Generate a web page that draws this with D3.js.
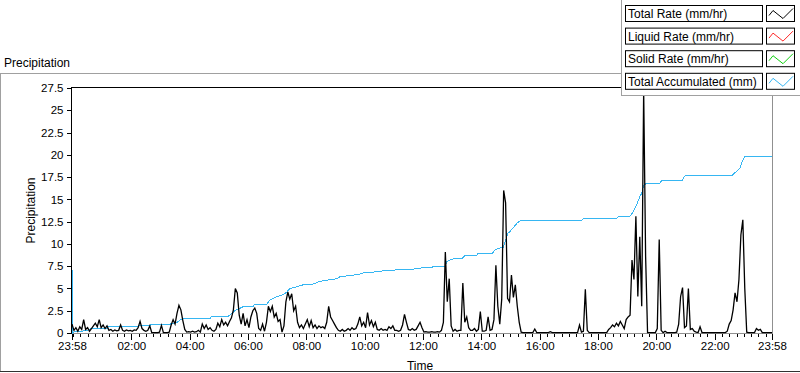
<!DOCTYPE html>
<html>
<head>
<meta charset="utf-8">
<script src="https://cdn.jsdelivr.net/npm/d3@7"></script>
<style>
  html, body { margin: 0; padding: 0; background: #ffffff; }
  svg { display: block; }
  text { font-family: "Liberation Sans", Arial, sans-serif; fill: #000; }
</style>
</head>
<body>
<svg id="chart" width="800" height="373"></svg>
<script>
// ---------------- DATA ----------------
const startLabel = "23:58";
const rateStepMinutes = 4;
// Total rate (mm/hr), one sample every 4 minutes from 23:58
const totalRate = [
  1.0, 0.3, 0.6, 0.2, 0.7, 0.4, 1.5, 0.4, 0.6, 0.2,
  0.5, 0.8, 1.1, 0.7, 1.5, 0.6, 0.9, 0.5, 0.8, 0.3,
  0.4, 0.2, 0.35, 0.25, 0.3, 0.9, 0.3, 0.2, 0.35, 0.25,
  0.3, 0.2, 0.35, 0.3, 0.6, 1.3, 0.5, 0.3, 0.2, 0.3,
  0.8, 0.05, 0.05, 0.05, 0.05, 0.1, 0.85, 0.05, 0.05, 0.05,
  0.1, 0.9, 1.5, 1.0, 2.2, 3.1, 2.6, 1.4, 0.4, 0.1,
  0.15, 0.1, 0.2, 0.1, 0.15, 0.3, 0.1, 1.0, 0.5, 0.9,
  0.4, 0.6, 0.3, 0.2, 0.4, 1.1, 0.7, 1.5, 0.9, 1.2,
  0.8, 1.3, 1.7, 2.6, 5.0, 4.5, 2.0, 1.0, 2.2, 0.8,
  1.5, 0.6, 1.8, 2.5, 2.8, 2.2, 0.5, 0.3, 1.0, 0.2,
  1.2, 3.0, 2.4, 3.0, 1.8, 2.2, 1.3, 1.5, 0.1, 0.8,
  3.5, 4.6, 3.8, 4.4, 2.5, 3.0, 1.2, 0.6, 0.9, 0.5,
  1.0, 1.5, 0.7, 1.4, 0.6, 0.9, 0.5, 0.8, 0.6, 0.7,
  0.5, 1.2, 3.0, 1.8, 1.4, 1.0, 0.6, 0.3, 0.2, 0.4,
  0.2, 0.3, 0.5, 0.3, 0.6, 0.4, 0.5, 1.0, 1.8, 0.8,
  1.2, 0.6, 2.3, 0.9, 1.4, 0.7, 1.2, 0.4, 0.3, 0.5,
  0.3, 0.4, 0.3, 0.7, 0.5, 0.8, 0.3, 0.3, 0.2, 0.3,
  0.9, 2.1, 1.2, 0.4, 0.3, 0.5, 0.3, 0.4, 0.8, 1.2,
  0.6, 0.1, 0.15, 0.1, 0.1, 0.15, 0.1, 0.1, 0.15, 0.1,
  0.3, 1.2, 9.1, 3.5, 6.1, 0.8, 0.2, 0.4, 0.2, 0.3,
  0.3, 5.6, 1.2, 1.8, 0.6, 0.3, 0.3, 0.5, 0.2, 0.4,
  2.4, 0.2, 0.2, 0.3, 1.8, 0.3, 0.4, 1.5, 7.6, 3.0,
  1.0, 3.8, 16.0, 14.6, 3.9, 3.5, 6.5, 4.0, 5.4, 3.0,
  1.2, 0.1, 0.05, 0.05, 0.05, 0.05, 0.05, 0.05, 0.45, 0.05,
  0.05, 0.05, 0.05, 0.05, 0.05, 0.05, 0.15, 0.05, 0.05, 0.05,
  0.05, 0.05, 0.05, 0.05, 0.05, 0.05, 0.05, 0.05, 0.05, 0.05,
  0.05, 0.9, 0.1, 0.2, 4.9, 0.3, 0.05, 0.05, 0.05, 0.05,
  0.05, 0.05, 0.05, 0.05, 0.05, 0.05, 0.4, 0.6, 0.9, 0.7,
  1.1, 0.8, 1.3, 0.9, 0.5, 1.5, 1.8, 2.0, 8.2, 6.0,
  13.1, 4.1, 10.8, 3.0, 27.2, 8.6, 0.05, 0.05, 0.05, 0.05,
  0.05, 0.5, 10.5, 0.3, 0.05, 0.2, 0.05, 0.05, 0.05, 0.05,
  0.05, 0.1, 1.0, 4.1, 5.1, 0.6, 0.8, 5.0, 0.4, 0.5,
  0.2, 0.1, 0.05, 0.7, 0.05, 0.05, 0.05, 0.05, 0.05, 0.05,
  0.05, 0.05, 0.05, 0.05, 0.05, 0.05, 0.05, 0.2, 1.0, 1.4,
  2.6, 4.5, 3.5, 6.0, 11.0, 12.7, 5.0, 0.1, 0.05, 0.05,
  0.05, 0.05, 0.5, 0.3, 0.4, 0.05, 0.05, 0.05, 0.05, 0.05,
  0.05
];
const liquidRate = [];   // not visible in the reference
const solidRate = [];    // not visible in the reference
// Total accumulated (mm): minutes after 23:58 and value
const accMinutes = [0,1,2,6,31,37,72,74,134,136,160,163,202,216,228,284,286,319,325,335,
  352,372,376,401,407,422,434,442,448,463,475,496,510,545,551,592,599,634,640,675,
  681,716,720,741,743,767,771,782,802,808,833,835,864,870,876,887,893,897,901,909,
  915,922,1049,1053,1121,1125,1148,1152,1160,1168,1172,1176,1181,1209,1213,1255,1259,1263,1358,1366,
  1374,1378,1384,1440];
const accValues = [7.4,0,0.05,0.15,0.26,0.45,0.45,0.7,0.7,0.8,0.8,1.0,1.0,1.2,1.65,1.65,1.8,1.8,2.0,2.5,
  2.95,2.95,3.25,3.25,3.7,4.1,4.3,4.6,5.0,5.2,5.4,5.5,5.8,6.1,6.3,6.6,6.75,6.9,7.0,7.1,
  7.15,7.2,7.35,7.35,7.48,7.48,8.0,8.3,8.35,8.65,8.7,8.9,8.9,9.3,9.5,9.6,10.6,11.2,11.4,11.9,
  12.3,12.6,12.68,12.87,12.87,13.13,13.13,13.4,14.2,15.3,15.7,16.6,16.76,16.76,17.1,17.1,17.5,17.7,17.7,18.1,
  18.5,19.2,19.83,19.85];
const yTicks = [0, 2.5, 5, 7.5, 10, 12.5, 15, 17.5, 20, 22.5, 25, 27.5];
const xTickLabels = ["23:58","02:00","04:00","06:00","08:00","10:00","12:00","14:00","16:00","18:00","20:00","22:00","23:58"];
const legendLabels = ["Total Rate (mm/hr)", "Liquid Rate (mm/hr)", "Solid Rate (mm/hr)", "Total Accumulated (mm)"];
const legendColors = ["#000000", "#ff2a2a", "#10d010", "#36b6f2"];
const chartTitle = "Precipitation";
const yTitle = "Precipitation";
const xTitle = "Time";

// ---------------- DRAW ----------------
const svg = d3.select("#chart");
const t0 = new Date(2020, 0, 1, 23, 58);
const t1 = d3.timeMinute.offset(t0, 24 * 60);
const L = 72, R = 772, T = 88, B = 333;
const x = d3.scaleTime().domain([t0, t1]).range([L, R]);
const y = d3.scaleLinear().domain([0, 27.5]).range([B, T]);

// outer frame
svg.append("line").attr("x1", 0).attr("x2", 800).attr("y1", 73.5).attr("y2", 73.5).attr("stroke", "#a0a0a0");
svg.append("line").attr("x1", 0.5).attr("x2", 0.5).attr("y1", 73.5).attr("y2", 372).attr("stroke", "#a0a0a0");
svg.append("line").attr("x1", 0).attr("x2", 800).attr("y1", 371.5).attr("y2", 371.5).attr("stroke", "#303030");

svg.append("text").attr("x", 4).attr("y", 67).attr("font-size", 12).text(chartTitle);

// plot area
svg.append("rect").attr("x", L).attr("y", T).attr("width", R - L).attr("height", B - T).attr("fill", "#fff");

// axes
const yAxis = d3.axisLeft(y).tickValues(yTicks).tickSize(5).tickPadding(3).tickFormat(d3.format(""));
const gy = svg.append("g").attr("transform", `translate(${L - 0.5},0)`).call(yAxis);
gy.select(".domain").remove();
gy.selectAll("text").attr("font-size", 11.5).attr("font-family", "Liberation Sans, Arial, sans-serif");

const majorTimes = xTickLabels.map((lab, i) => {
  if (i === 0) return t0;
  if (i === xTickLabels.length - 1) return t1;
  const [h, m] = lab.split(":").map(Number);
  return new Date(2020, 0, 2, h, m);
});
const minorTimes = d3.timeMinute.every(15).range(t0, t1);
const gxMinor = svg.append("g").attr("transform", `translate(0,${B})`)
  .call(d3.axisBottom(x).tickValues(minorTimes).tickSize(4).tickFormat(""));
gxMinor.select(".domain").remove();
const gx = svg.append("g").attr("transform", `translate(0,${B})`)
  .call(d3.axisBottom(x).tickValues(majorTimes).tickSize(7).tickPadding(2)
    .tickFormat((d, i) => xTickLabels[i]));
gx.select(".domain").remove();
gx.selectAll("text").attr("font-size", 11.5).attr("font-family", "Liberation Sans, Arial, sans-serif");
svg.selectAll(".tick line").attr("shape-rendering", "crispEdges");

// frame of plot
svg.append("line").attr("x1", L).attr("x2", R + 1).attr("y1", B + 0.5).attr("y2", B + 0.5).attr("stroke", "#909090");
svg.append("line").attr("x1", R + 0.5).attr("x2", R + 0.5).attr("y1", T).attr("y2", B + 1).attr("stroke", "#909090");
svg.append("line").attr("x1", L - 0.5).attr("x2", R + 1).attr("y1", T - 0.5).attr("y2", T - 0.5).attr("stroke", "#000");
svg.append("line").attr("x1", L - 0.5).attr("x2", L - 0.5).attr("y1", T - 1).attr("y2", B + 1).attr("stroke", "#000");

// titles
svg.append("text").attr("x", 420).attr("y", 370).attr("text-anchor", "middle").attr("font-size", 12).text(xTitle);
svg.append("text").attr("transform", `translate(35,${(T + B) / 2}) rotate(-90)`).attr("text-anchor", "middle")
  .attr("font-size", 12).text(yTitle);

// clip
svg.append("clipPath").attr("id", "clip").append("rect")
  .attr("x", L).attr("y", T).attr("width", R - L + 1).attr("height", B - T + 1);
const plot = svg.append("g").attr("clip-path", "url(#clip)");

const rateData = totalRate.map((v, i) => ({ t: d3.timeMinute.offset(t0, i * rateStepMinutes), v }));
const accData = accMinutes.map((m, i) => ({ t: d3.timeMinute.offset(t0, m), v: accValues[i] }));
const line = d3.line().x(d => x(d.t)).y(d => y(d.v));

plot.append("path").datum(accData).attr("d", line).attr("fill", "none")
  .attr("stroke", legendColors[3]).attr("stroke-width", 1).attr("shape-rendering", "crispEdges");
plot.append("path").datum(rateData).attr("d", line).attr("fill", "none")
  .attr("stroke", legendColors[0]).attr("stroke-width", 1.3).attr("stroke-linejoin", "miter");

// legend
const lg = svg.append("g");
lg.append("rect").attr("x", 621.5).attr("y", -2).attr("width", 182).attr("height", 97.5)
  .attr("fill", "#fff").attr("stroke", "#a0a0a0");
legendLabels.forEach((lab, k) => {
  const by = 5.5 + k * 22.6;
  lg.append("rect").attr("x", 625.5).attr("y", by).attr("width", 137).attr("height", 16)
    .attr("fill", "#fff").attr("stroke", "#000");
  lg.append("text").attr("x", 628).attr("y", by + 12.5).attr("font-size", 12).text(lab);
  lg.append("rect").attr("x", 766.5).attr("y", by).attr("width", 28).attr("height", 16)
    .attr("fill", "#fff").attr("stroke", "#000");
  lg.append("polyline")
    .attr("points", [[769, by + 10], [773, by + 5], [783, by + 13], [793, by + 3]].map(p => p.join(",")).join(" "))
    .attr("fill", "none").attr("stroke", legendColors[k]).attr("stroke-width", 1);
});
</script>
</body>
</html>
